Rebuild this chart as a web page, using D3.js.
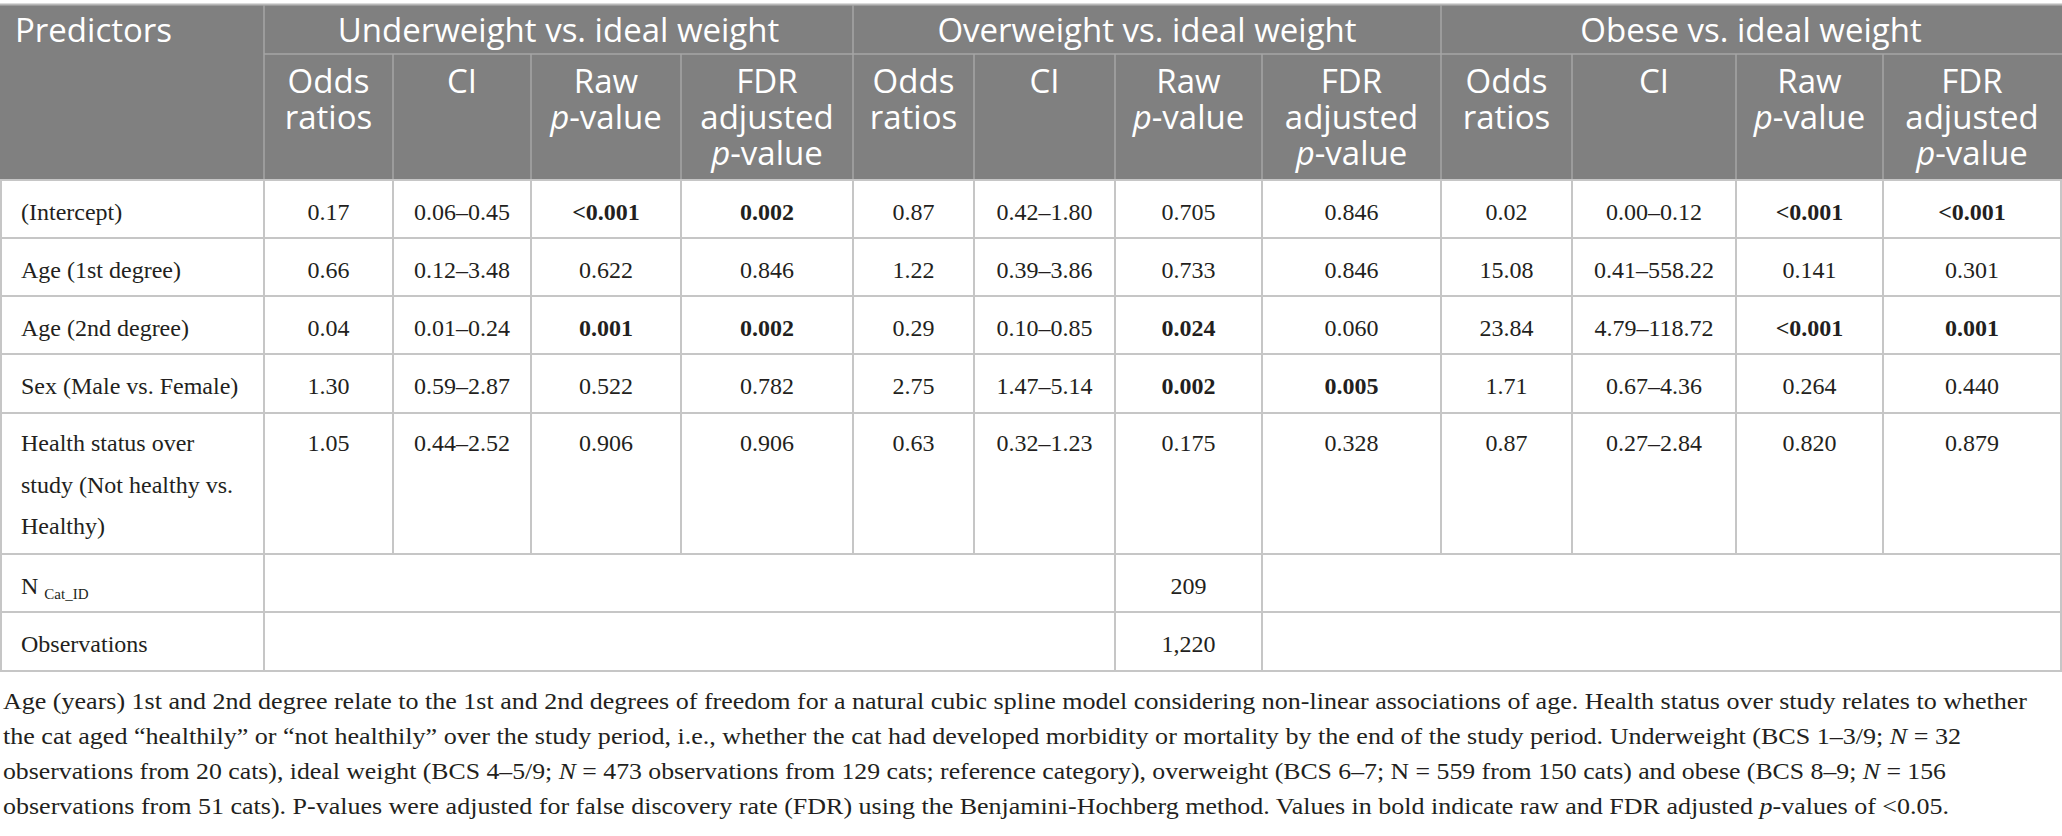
<!DOCTYPE html>
<html>
<head>
<meta charset="utf-8">
<script src="https://cdn.jsdelivr.net/npm/d3@7"></script>
<style>
  html, body { margin: 0; padding: 0; background: #fff; }
  svg { display: block; }
</style>
</head>
<body>
<svg id="table" width="2062" height="836"></svg>
<script>

// ---- data ----
const predictorLines = [
  ["(Intercept)"],
  ["Age (1st degree)"],
  ["Age (2nd degree)"],
  ["Sex (Male vs. Female)"],
  ["Health status over", "study (Not healthy vs.", "Healthy)"]
];
const groupTitles = ["Underweight vs. ideal weight", "Overweight vs. ideal weight", "Obese vs. ideal weight"];
const statHeaders = [["Odds", "ratios"], ["CI"], ["Raw", "*p*-value"], ["FDR", "adjusted", "*p*-value"]];

const underOdds = [0.17, 0.66, 0.04, 1.30, 1.05];
const underCI = [[0.06, 0.45], [0.12, 3.48], [0.01, 0.24], [0.59, 2.87], [0.44, 2.52]];
const underRaw = ["<0.001", "0.622", "0.001", "0.522", "0.906"];
const underFdr = ["0.002", "0.846", "0.002", "0.782", "0.906"];

const overOdds = [0.87, 1.22, 0.29, 2.75, 0.63];
const overCI = [[0.42, 1.80], [0.39, 3.86], [0.10, 0.85], [1.47, 5.14], [0.32, 1.23]];
const overRaw = ["0.705", "0.733", "0.024", "0.002", "0.175"];
const overFdr = ["0.846", "0.846", "0.060", "0.005", "0.328"];

const obeseOdds = [0.02, 15.08, 23.84, 1.71, 0.87];
const obeseCI = [[0.00, 0.12], [0.41, 558.22], [4.79, 118.72], [0.67, 4.36], [0.27, 2.84]];
const obeseRaw = ["<0.001", "0.141", "<0.001", "0.264", "0.820"];
const obeseFdr = ["<0.001", "0.301", "0.001", "0.440", "0.879"];

const summaryLabels = ["N", "Observations"];
const summarySubs = ["Cat_ID", ""];
const summaryValues = [209, 1220];

const footnoteLines = [
  "Age (years) 1st and 2nd degree relate to the 1st and 2nd degrees of freedom for a natural cubic spline model considering non-linear associations of age. Health status over study relates to whether",
  "the cat aged \u201chealthily\u201d or \u201cnot healthily\u201d over the study period, i.e., whether the cat had developed morbidity or mortality by the end of the study period. Underweight (BCS 1\u20133/9; *N* = 32",
  "observations from 20 cats), ideal weight (BCS 4\u20135/9; *N* = 473 observations from 129 cats; reference category), overweight (BCS 6\u20137; N = 559 from 150 cats) and obese (BCS 8\u20139; *N* = 156",
  "observations from 51 cats). P-values were adjusted for false discovery rate (FDR) using the Benjamini-Hochberg method. Values in bold indicate raw and FDR adjusted *p*-values of <0.05."
];

// ---- layout ----
const W = 2062, H = 836;
const colEdges = [0, 264, 393, 531, 681, 853, 974, 1115, 1262, 1441, 1572, 1736, 1883, 2061];
const rowEdges = [180, 238, 296, 354, 413, 554, 612, 671];
const headTop = 5, headMid = 54, headBottom = 180;
const footWidths = [2024, 1958, 1943, 1946];
const footBase = [709, 744, 779, 814];

const SERIF = "'Liberation Serif', 'Times New Roman', serif";
const SANS = "'Open Sans', 'Noto Sans', sans-serif";
const INK = "#231f20";
const HEAD_BG = "#808080";
const HEAD_LINE = "#a6a6a6";
const GRID = "#c6c6c6";

const fmt2 = d3.format(".2f");
const fmtInt = d3.format(",");

// column index -> left edge / centre
const colIdx = d3.range(colEdges.length - 1);
const xLeft = d3.scaleOrdinal().domain(colIdx).range(colEdges.slice(0, -1));
const xRight = d3.scaleOrdinal().domain(colIdx).range(colEdges.slice(1));
const xMid = i => (xLeft(i) + xRight(i)) / 2;
// row index -> top / bottom edge
const rowIdx = d3.range(rowEdges.length - 1);
const yTop = d3.scaleOrdinal().domain(rowIdx).range(rowEdges.slice(0, -1));
const yBottom = d3.scaleOrdinal().domain(rowIdx).range(rowEdges.slice(1));

const svg = d3.select("#table");

/* text with *italic* segments, appended as tspans */
function richText(sel, str) {
  str.split(/(\*[^*]+\*)/).filter(s => s.length).forEach(part => {
    const it = part.startsWith("*");
    sel.append("tspan")
      .attr("font-style", it ? "italic" : null)
      .text(it ? part.slice(1, -1) : part);
  });
  return sel;
}

/* p < 0.05 is bold */
function isSig(p) {
  return p.startsWith("<") || +p < 0.05;
}

// ---- header ----
const head = svg.append("g").attr("class", "head");
head.append("rect")
  .attr("x", 0).attr("y", headTop)
  .attr("width", W).attr("height", headBottom - headTop)
  .attr("fill", HEAD_BG);
head.append("line")
  .attr("x1", 0).attr("x2", W).attr("y1", headTop - 0.5).attr("y2", headTop - 0.5)
  .attr("stroke", "#b8b8b8").attr("stroke-width", 2);

// group spans: columns 1-4, 5-8, 9-12
const groupCols = groupTitles.map((g, i) => [1 + i * 4, 4 + i * 4]);

head.append("line")
  .attr("x1", xLeft(1)).attr("x2", W)
  .attr("y1", headMid).attr("y2", headMid)
  .attr("stroke", HEAD_LINE).attr("stroke-width", 1.5);

colIdx.slice(1).forEach(i => {
  const full = (i - 1) % 4 === 0;
  head.append("line")
    .attr("x1", xLeft(i)).attr("x2", xLeft(i))
    .attr("y1", full ? headTop : headMid).attr("y2", headBottom)
    .attr("stroke", HEAD_LINE).attr("stroke-width", 1.5);
});

head.append("text")
  .attr("x", 15).attr("y", 42)
  .attr("font-family", SANS).attr("font-size", 33).attr("fill", "#fff")
  .text("Predictors");

head.selectAll("text.group")
  .data(groupTitles)
  .enter()
  .append("text")
  .attr("class", "group")
  .attr("x", (d, i) => (xLeft(groupCols[i][0]) + xRight(groupCols[i][1])) / 2)
  .attr("y", 42)
  .attr("text-anchor", "middle")
  .attr("font-family", SANS).attr("font-size", 33).attr("fill", "#fff")
  .text(d => d);

colIdx.slice(1).forEach(i => {
  const lines = statHeaders[(i - 1) % 4];
  lines.forEach((ln, k) => {
    const t = head.append("text")
      .attr("x", xMid(i)).attr("y", 93 + k * 36)
      .attr("text-anchor", "middle")
      .attr("font-family", SANS).attr("font-size", 33).attr("fill", "#fff");
    richText(t, ln);
  });
});

// ---- body ----
const body = svg.append("g").attr("class", "body");

// build cell strings per row
const groupsData = [
  [underOdds, underCI, underRaw, underFdr],
  [overOdds, overCI, overRaw, overFdr],
  [obeseOdds, obeseCI, obeseRaw, obeseFdr]
];
const cells = [];
predictorLines.forEach((lines, r) => {
  groupsData.forEach((g, gi) => {
    const [odds, ci, raw, fdr] = g;
    const base = 1 + gi * 4;
    cells.push({ r: r, c: base, text: fmt2(odds[r]), bold: false });
    cells.push({ r: r, c: base + 1, text: fmt2(ci[r][0]) + "\u2013" + fmt2(ci[r][1]), bold: false });
    cells.push({ r: r, c: base + 2, text: raw[r], bold: isSig(raw[r]) });
    cells.push({ r: r, c: base + 3, text: fdr[r], bold: isSig(fdr[r]) });
  });
});

// grid lines
rowEdges.forEach(y => {
  body.append("line")
    .attr("x1", 0).attr("x2", W).attr("y1", y).attr("y2", y)
    .attr("stroke", GRID).attr("stroke-width", 2);
});
colIdx.slice(1).forEach(i => {
  body.append("line")
    .attr("x1", xLeft(i)).attr("x2", xLeft(i))
    .attr("y1", rowEdges[0]).attr("y2", yBottom(4))
    .attr("stroke", GRID).attr("stroke-width", 2);
});
[1, 7, 8].forEach(i => {
  body.append("line")
    .attr("x1", xLeft(i)).attr("x2", xLeft(i))
    .attr("y1", yTop(5)).attr("y2", yBottom(6))
    .attr("stroke", GRID).attr("stroke-width", 2);
});
[1, W - 1].forEach(x => {
  body.append("line")
    .attr("x1", x).attr("x2", x)
    .attr("y1", rowEdges[0]).attr("y2", rowEdges[rowEdges.length - 1])
    .attr("stroke", GRID).attr("stroke-width", 2);
});

// baseline of first text line in a row
function firstBase(r) {
  if (predictorLines[r] && predictorLines[r].length > 1) return yTop(r) + 38;
  return (yTop(r) + yBottom(r)) / 2 + 10.5;
}

predictorLines.forEach((lines, r) => {
  lines.forEach((ln, k) => {
    body.append("text")
      .attr("x", 21).attr("y", firstBase(r) + k * 41.5)
      .attr("font-family", SERIF).attr("font-size", 24).attr("fill", INK)
      .text(ln);
  });
});

body.selectAll("text.cell")
  .data(cells)
  .enter()
  .append("text")
  .attr("class", "cell")
  .attr("x", d => xMid(d.c))
  .attr("y", d => firstBase(d.r))
  .attr("text-anchor", "middle")
  .attr("font-family", SERIF).attr("font-size", 24).attr("fill", INK)
  .attr("font-weight", d => d.bold ? "bold" : null)
  .text(d => d.text);

// N / Observations rows
summaryLabels.forEach((lab, k) => {
  const r = 5 + k;
  const t = body.append("text")
    .attr("x", 21).attr("y", firstBase(r))
    .attr("font-family", SERIF).attr("font-size", 24).attr("fill", INK)
    .text(lab);
  if (summarySubs[k]) {
    t.append("tspan").attr("font-size", 15).attr("dx", 6).attr("dy", 5).text(summarySubs[k]);
  }
  body.append("text")
    .attr("x", xMid(7)).attr("y", firstBase(r))
    .attr("text-anchor", "middle")
    .attr("font-family", SERIF).attr("font-size", 24).attr("fill", INK)
    .text(fmtInt(summaryValues[k]));
});

// ---- footnote ----
const foot = svg.append("g").attr("class", "foot");
footnoteLines.forEach((ln, k) => {
  const t = foot.append("text")
    .attr("x", 3).attr("y", footBase[k])
    .attr("font-family", SERIF).attr("font-size", 24).attr("fill", INK)
    .attr("textLength", footWidths[k])
    .attr("lengthAdjust", "spacingAndGlyphs");
  richText(t, ln);
});

</script>
</body>
</html>
